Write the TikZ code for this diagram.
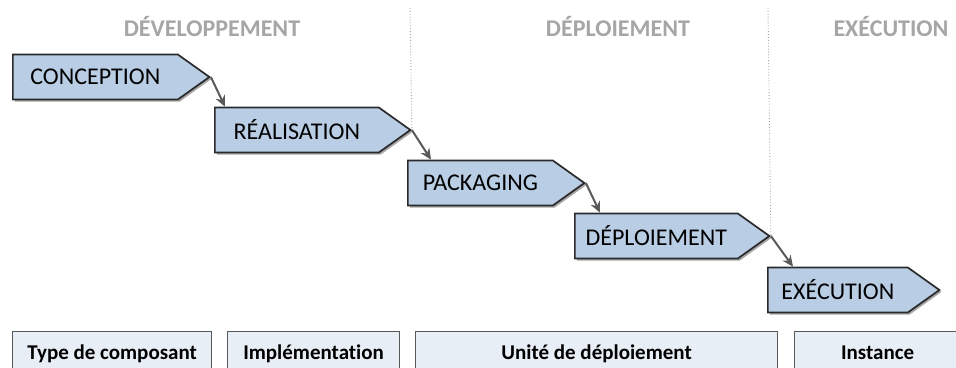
\documentclass[tikz,border=0pt]{standalone}
\usepackage{fontspec}
\setmainfont[Ligatures=NoCommon]{Carlito}
\usetikzlibrary{shapes.symbols,arrows.meta,shadows}
\definecolor{stepfill}{HTML}{B9CDE5}
\definecolor{stepline}{HTML}{2A2A2A}
\definecolor{phasegray}{HTML}{A6A6A6}
\definecolor{artefill}{HTML}{E8EEF6}
\definecolor{linkgray}{HTML}{595959}
\tikzstyle{stage} = [signal, signal to=east, signal pointer angle=71, draw=stepline, line width=1.7pt, fill=stepfill, inner xsep=0pt, align=center, minimum height=45pt, anchor=west, font=\fontsize{24}{26}\selectfont, drop shadow={shadow xshift=2pt, shadow yshift=-2pt, fill=black, opacity=.35}]
\tikzstyle{phase} = [text=phasegray, font=\fontsize{24}{26}\selectfont\bfseries]
\tikzstyle{artefact} = [rectangle, draw=linkgray, line width=1.2pt, fill=artefill, minimum height=46pt, anchor=north west, text height=14pt, text depth=4pt, font=\fontsize{21}{23}\selectfont\bfseries]
\tikzstyle{line} = [draw=linkgray, line width=2pt, -{Stealth[length=11pt,width=10pt]}]
\tikzstyle{border} = [draw=gray!70, dotted, line width=0.9pt]

\begin{document}
\begin{tikzpicture}[x=1pt, y=-1pt]
	\clip (0,0) rectangle (956,367);
	\node [phase] (devhead) at (212,27) {DÉVELOPPEMENT};
	\node [phase] (dephead) at (618,27) {DÉPLOIEMENT};
	\node [phase] (exehead) at (891,27) {EXÉCUTION};
	\coordinate (devtop) at (410,8);
	\coordinate (deptop) at (768,8);
	\node [stage, text width=165pt] (conception) at (12,77) {CONCEPTION};
	\node [stage, text width=164pt] (realisation) at (214,130) {RÉALISATION};
	\node [stage, text width=145pt] (packaging) at (407,183) {PACKAGING};
	\node [stage, text width=163pt] (deploiement) at (574,236) {DÉPLOIEMENT};
	\node [stage, text width=140pt] (execution) at (767,290) {EXÉCUTION};
	\path [border] (devtop) -- (realisation.east);
	\path [border] (deptop) -- (deploiement.east);
	\path [line] (conception.east) -- ([xshift=11pt]realisation.north west);
	\path [line] (realisation.east) -- ([xshift=24pt]packaging.north west);
	\path [line] (packaging.east) -- ([xshift=26pt]deploiement.north west);
	\path [line] (deploiement.east) -- ([xshift=26pt]execution.north west);
	\node [artefact, minimum width=199pt] (type) at (12,331) {Type de composant};
	\node [artefact, minimum width=172pt] (impl) at (227,331) {Implémentation};
	\node [artefact, minimum width=362pt] (unite) at (415,331) {Unité de déploiement};
	\node [artefact, minimum width=166pt] (instance) at (794,331) {Instance};
\end{tikzpicture}
\end{document}
